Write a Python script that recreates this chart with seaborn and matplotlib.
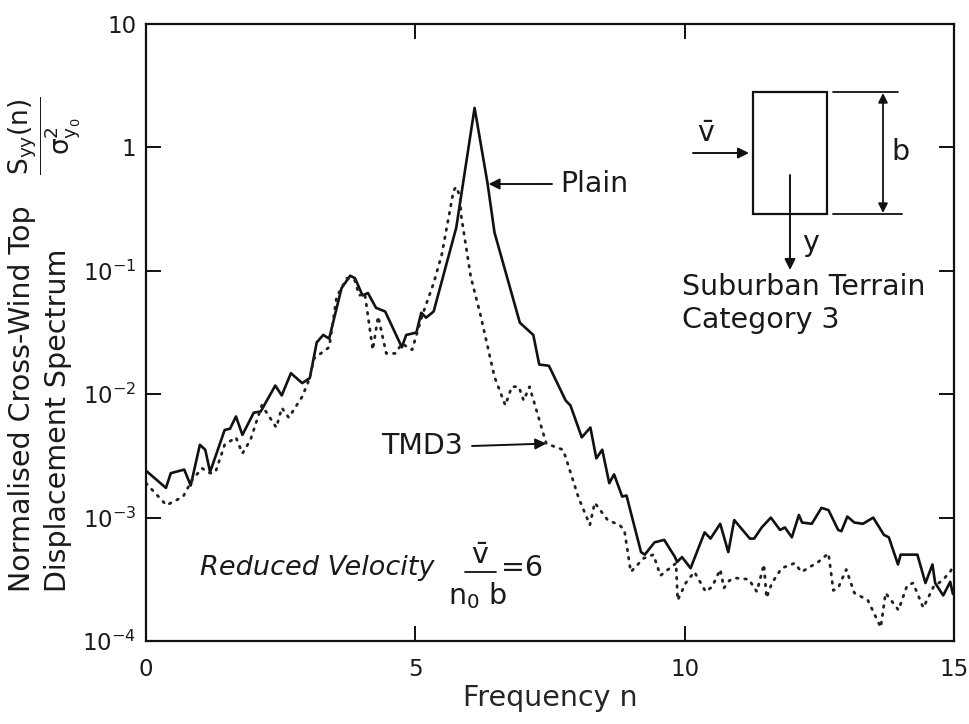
import matplotlib
matplotlib.use("Agg")
import matplotlib.pyplot as plt
import pandas as pd
import seaborn as sns
from matplotlib.patches import Rectangle
from matplotlib.lines import Line2D

# Plain building: normalised cross-wind top displacement spectrum
plain_freq = [0.00, 0.37, 0.46, 0.71, 0.83, 1.00, 1.10, 1.19, 1.46, 1.56, 1.67, 1.79,
              2.00, 2.13, 2.40, 2.52, 2.69, 2.90, 3.04, 3.17, 3.29, 3.40, 3.63, 3.79,
              3.88, 4.02, 4.12, 4.27, 4.44, 4.75, 4.83, 5.02, 5.11, 5.20, 5.34, 5.76,
              6.10, 6.34, 6.47, 6.94, 7.19, 7.30, 7.48, 7.79, 7.88, 8.09, 8.25, 8.36,
              8.47, 8.60, 8.69, 8.84, 8.92, 9.19, 9.26, 9.44, 9.62, 9.82, 9.86, 9.95,
              10.11, 10.37, 10.48, 10.66, 10.81, 10.92, 11.21, 11.29, 11.43, 11.60,
              11.77, 11.86, 11.99, 12.12, 12.18, 12.36, 12.54, 12.67, 12.85, 12.91,
              13.02, 13.15, 13.31, 13.50, 13.70, 13.79, 13.96, 14.01, 14.32, 14.47,
              14.60, 14.65, 14.80, 14.93, 14.98]
plain_spec = [0.0024, 0.00174, 0.00229, 0.00245, 0.00182, 0.00389, 0.00355, 0.00234,
              0.00513, 0.00525, 0.0066, 0.00468, 0.00708, 0.00724, 0.01175, 0.00977,
              0.0148, 0.0123, 0.0135, 0.0263, 0.0302, 0.0282, 0.0724, 0.0912, 0.0871,
              0.0631, 0.0661, 0.0501, 0.0468, 0.024, 0.0302, 0.0316, 0.0457, 0.0417,
              0.0468, 0.224, 2.09, 0.513, 0.204, 0.038, 0.0302, 0.0174, 0.017, 0.0089,
              0.0081, 0.00447, 0.00537, 0.00302, 0.00355, 0.0019, 0.00224, 0.00148,
              0.00151, 0.000525, 0.000501, 0.00063, 0.00066, 0.000479, 0.000437,
              0.000479, 0.000389, 0.000759, 0.000676, 0.000891, 0.000525, 0.000955,
              0.000676, 0.000676, 0.000832, 0.001, 0.000794, 0.000832, 0.000692,
              0.00105, 0.000912, 0.000891, 0.0012, 0.00115, 0.000794, 0.000776,
              0.00102, 0.000912, 0.000891, 0.001, 0.000724, 0.000692, 0.000417,
              0.000501, 0.000501, 0.000295, 0.000417, 0.000295, 0.000234, 0.000302,
              0.00024]

# Building fitted with tuned mass damper TMD3
tmd3_freq = [0.00, 0.38, 0.69, 0.85, 1.04, 1.19, 1.29, 1.46, 1.67, 1.79, 1.94, 2.15,
             2.42, 2.52, 2.65, 2.90, 3.04, 3.12, 3.40, 3.54, 3.73, 3.87, 3.96, 4.06,
             4.21, 4.31, 4.46, 4.63, 4.75, 4.94, 5.13, 5.34, 5.49, 5.71, 5.76, 5.83,
             5.85, 6.03, 6.20, 6.47, 6.67, 6.79, 6.92, 7.01, 7.12, 7.43, 7.74, 7.79,
             8.03, 8.24, 8.33, 8.57, 8.79, 8.88, 9.00, 9.24, 9.42, 9.55, 9.84, 9.87,
             10.02, 10.18, 10.39, 10.51, 10.66, 10.73, 10.83, 10.94, 11.19, 11.34,
             11.47, 11.52, 11.62, 11.80, 12.04, 12.17, 12.48, 12.67, 12.76, 12.85,
             13.00, 13.15, 13.40, 13.64, 13.73, 13.97, 14.13, 14.24, 14.43, 14.62,
             14.78, 14.93, 15.00]
tmd3_spec = [0.0019, 0.00126, 0.00148, 0.002, 0.00251, 0.00229, 0.00234, 0.00389,
             0.00447, 0.00331, 0.00427, 0.00813, 0.00537, 0.00776, 0.00646, 0.00955,
             0.0135, 0.0195, 0.024, 0.0617, 0.0871, 0.0851, 0.0631, 0.0661, 0.0229,
             0.0427, 0.0214, 0.0214, 0.0257, 0.0229, 0.0437, 0.0794, 0.135, 0.447,
             0.479, 0.398, 0.282, 0.0891, 0.0457, 0.0138, 0.00813, 0.0115, 0.0115,
             0.0089, 0.0115, 0.00398, 0.00355, 0.00309, 0.00145, 0.000871, 0.00132,
             0.000955, 0.000871, 0.000794, 0.000363, 0.000468, 0.000501, 0.000339,
             0.000427, 0.000214, 0.000295, 0.000363, 0.000251, 0.000275, 0.00038,
             0.000269, 0.000309, 0.000324, 0.000316, 0.000251, 0.000417, 0.000224,
             0.000295, 0.000389, 0.000427, 0.000363, 0.000437, 0.000513, 0.000257,
             0.000269, 0.00038, 0.000245, 0.000214, 0.000129, 0.000245, 0.000178,
             0.000282, 0.000295, 0.000186, 0.000275, 0.000309, 0.000363, 0.000417]

x_ticks = [0, 5, 10, 15]
x_tick_labels = ["0", "5", "10", "15"]
y_ticks = [1e-4, 1e-3, 1e-2, 1e-1, 1, 10]
y_tick_labels = ["10$^{-4}$", "10$^{-3}$", "10$^{-2}$", "10$^{-1}$", "1", "10"]

sns.set_theme(style="ticks")
plt.rcParams["font.family"] = ["DejaVu Sans"]
plt.rcParams["mathtext.fontset"] = "dejavusans"
plt.rcParams["mathtext.default"] = "rm"
plt.rcParams["text.color"] = "#1a1a1a"

TXT = 20.5
W, H = 969, 724
fig = plt.figure(figsize=(W / 100, H / 100), dpi=100, facecolor="white")
ax = fig.add_axes([146 / W, 1 - 641 / H, 808 / W, 617 / H])
ax.set_facecolor("white")


def F(px, py):
    """Pixel position (from the top-left corner) to figure fraction."""
    return (px / W, 1 - py / H)


plain = pd.DataFrame({"n": plain_freq, "S": plain_spec})
tmd3 = pd.DataFrame({"n": tmd3_freq, "S": tmd3_spec})

sns.lineplot(data=plain, x="n", y="S", ax=ax, color="#111111", lw=1.9,
             estimator=None, sort=False)
sns.lineplot(data=tmd3, x="n", y="S", ax=ax, color="#222222", lw=2.0,
             linestyle=(0, (0.6, 2.4)), dash_capstyle="round",
             estimator=None, sort=False)

ax.set_yscale("log")
ax.set_xlim(0, 15)
ax.set_ylim(1e-4, 10)
ax.set_xticks(x_ticks)
ax.set_xticklabels(x_tick_labels)
ax.set_yticks(y_ticks)
ax.set_yticklabels(y_tick_labels)
ax.minorticks_off()
ax.tick_params(which="major", direction="in", length=11, width=1.4,
               color="#111111", top=True, right=True, labelsize=16.5,
               labelcolor="#1a1a1a")
ax.tick_params(axis="x", pad=12)
ax.tick_params(axis="y", pad=7)
for sp in ax.spines.values():
    sp.set_visible(True)
    sp.set_linewidth(1.6)
    sp.set_color("#111111")

ax.set_xlabel("Frequency n", fontsize=TXT)
ax.xaxis.set_label_coords(0.5, -0.07)
ax.set_ylabel("")

# y-axis title in two rotated lines with the spectrum ratio
fig.text(*F(22, 592), "Normalised Cross-Wind Top", rotation=90,
         rotation_mode="anchor", ha="left", va="center", fontsize=TXT)
fig.text(*F(58, 592), "Displacement Spectrum", rotation=90,
         rotation_mode="anchor", ha="left", va="center", fontsize=TXT)
fig.text(*F(45, 136), r"$\dfrac{S_{yy}(n)}{\sigma^2_{y_0}}$", rotation=90,
         rotation_mode="anchor", ha="center", va="center", fontsize=19)

# curve labels with arrows
arrow_kw = dict(arrowstyle="-|>", color="#111111", lw=1.4, mutation_scale=16,
                shrinkA=0, shrinkB=0)
ax.annotate("", xy=(6.36, 0.505), xycoords="data",
            xytext=F(552, 184), textcoords="figure fraction", arrowprops=arrow_kw)
fig.text(*F(560, 184), "Plain", ha="left", va="center", fontsize=TXT)
ax.annotate("", xy=(7.43, 0.00398), xycoords="data",
            xytext=F(472, 446), textcoords="figure fraction", arrowprops=arrow_kw)
fig.text(*F(463, 446), "TMD3", ha="right", va="center", fontsize=TXT)

# building cross-section sketch
fig.add_artist(Rectangle(F(753, 214), 74 / W, 122 / H, transform=fig.transFigure,
                         fill=False, lw=1.6, ec="#111111"))
fig.add_artist(Line2D([833 / W, 898 / W], [1 - 92 / H] * 2, transform=fig.transFigure,
                      lw=1.3, color="#111111"))
fig.add_artist(Line2D([833 / W, 902 / W], [1 - 214 / H] * 2, transform=fig.transFigure,
                      lw=1.3, color="#111111"))
ax.annotate("", xy=F(883, 93), xycoords="figure fraction", xytext=F(883, 213),
            textcoords="figure fraction",
            arrowprops=dict(arrowstyle="<|-|>", color="#111111", lw=1.3,
                            mutation_scale=14, shrinkA=0, shrinkB=0))
fig.text(*F(891, 152), "b", ha="left", va="center", fontsize=TXT)
ax.annotate("", xy=F(749, 153), xycoords="figure fraction", xytext=F(693, 153),
            textcoords="figure fraction", arrowprops=arrow_kw)
fig.text(*F(706, 134), r"$\bar{\mathrm{v}}$", ha="center", va="center", fontsize=TXT)
ax.annotate("", xy=F(790, 270), xycoords="figure fraction", xytext=F(790, 175),
            textcoords="figure fraction", arrowprops=arrow_kw)
fig.text(*F(811, 243), "y", ha="center", va="center", fontsize=TXT)
fig.text(*F(682, 287), "Suburban Terrain", ha="left", va="center", fontsize=TXT)
fig.text(*F(682, 320), "Category 3", ha="left", va="center", fontsize=TXT)

# reduced velocity note
fig.text(*F(200, 568), "Reduced Velocity", ha="left", va="center", fontsize=19.5,
         style="italic")
fig.text(*F(480, 556), r"$\bar{\mathrm{v}}$", ha="center", va="center", fontsize=TXT)
fig.add_artist(Line2D([465 / W, 496 / W], [1 - 572 / H] * 2, transform=fig.transFigure,
                      lw=1.3, color="#111111"))
fig.text(*F(478, 596), "n$_0$ b", ha="center", va="center", fontsize=TXT)
fig.text(*F(501, 568), "=6", ha="left", va="center", fontsize=TXT)

fig.savefig("out.png", dpi=100, facecolor="white")
